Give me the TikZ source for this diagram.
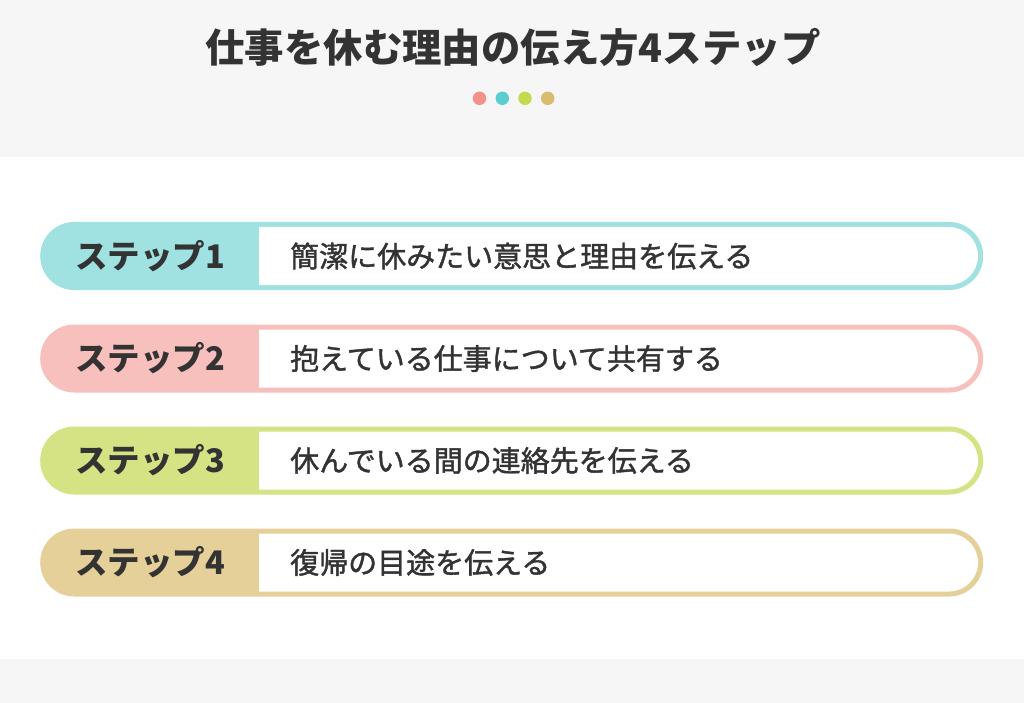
\documentclass[tikz,border=0pt]{standalone}
\usepackage{fontspec}
\setmainfont{Noto Sans CJK JP}
\newfontfamily\jpdesc{Noto Sans CJK JP}[FakeBold=1.4]
\definecolor{bggray}{HTML}{F6F6F6}
\definecolor{txt}{HTML}{333333}
\definecolor{pcyan}{HTML}{A0E1E1}
\definecolor{ppink}{HTML}{F8C0BC}
\definecolor{pgreen}{HTML}{D5E384}
\definecolor{ptan}{HTML}{E5D09A}
\definecolor{dpink}{HTML}{F3928C}
\definecolor{dcyan}{HTML}{5BCFD0}
\definecolor{dgreen}{HTML}{C4D94D}
\definecolor{dtan}{HTML}{D9BC6F}
\tikzset{
  pill/.style={inner sep=0pt, minimum width=943pt, minimum height=68pt, rounded corners=34pt, anchor=west},
  steplabel/.style={inner sep=0pt, text=txt, font=\bfseries\fontsize{32.5}{32.5}\selectfont},
  desctext/.style={inner sep=0pt, text=txt, anchor=west, font=\jpdesc\fontsize{29}{29}\selectfont},
  titletext/.style={inner sep=0pt, text=txt, font=\bfseries\fontsize{39.4}{39.4}\selectfont},
  dotstyle/.style={circle, inner sep=0pt, minimum size=13.5pt}
}
\newcommand{\myrow}[6]{%
  \node[pill, fill=#3] (p#1) at (40,#2) {};
  \fill[white] (259,#4) -- (949,#4) arc (-90:90:29) -- (259,#5) -- cycle;
  \node[steplabel] (lab#1) at (150,#2) {ステップ#1};
  \node[desctext] (desc#1) at (290,#2) {#6};
}
\begin{document}
\begin{tikzpicture}[x=1pt,y=-1pt]
\useasboundingbox (0,0) rectangle (1024,703);
\fill[bggray] (0,0) rectangle (1024,157);
\fill[white] (0,157) rectangle (1024,659);
\fill[bggray] (0,659) rectangle (1024,703);
\node[titletext] (title) at (513,47) {仕事を休む理由の伝え方4ステップ};
\node[dotstyle, fill=dpink] (d1) at (479.5,98.3) {};
\node[dotstyle, fill=dcyan] (d2) at (502.3,98.3) {};
\node[dotstyle, fill=dgreen] (d3) at (525,98.3) {};
\node[dotstyle, fill=dtan] (d4) at (547.7,98.3) {};
\myrow{1}{256}{pcyan}{227}{285}{簡潔に休みたい意思と理由を伝える}
\myrow{2}{358.5}{ppink}{329.5}{387.5}{抱えている仕事について共有する}
\myrow{3}{460.5}{pgreen}{431.5}{489.5}{休んでいる間の連絡先を伝える}
\myrow{4}{562.5}{ptan}{533.5}{591.5}{復帰の目途を伝える}
\end{tikzpicture}
\end{document}
